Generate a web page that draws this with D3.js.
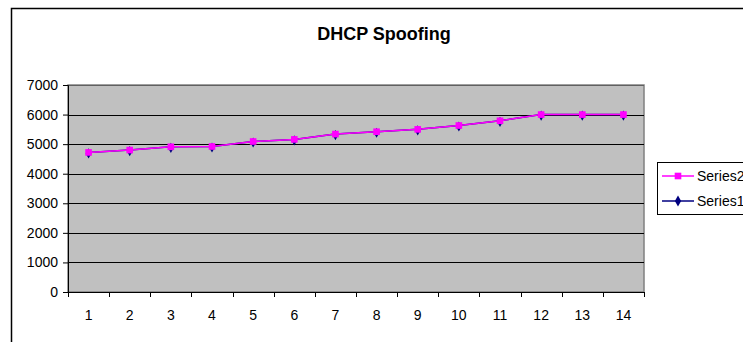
<!DOCTYPE html>
<html>
<head>
<meta charset="utf-8">
<script src="https://cdn.jsdelivr.net/npm/d3@7"></script>
<style>
  body { margin: 0; background: #fff; }
  text { font-family: "Liberation Sans", Arial, sans-serif; fill: #000; }
</style>
</head>
<body>
<svg id="chart" width="743" height="342"></svg>
<script>
var categories = [1, 2, 3, 4, 5, 6, 7, 8, 9, 10, 11, 12, 13, 14];
var series1 = [4720, 4800, 4910, 4920, 5090, 5160, 5340, 5420, 5500, 5630, 5790, 6000, 6000, 6000];
var series2 = [4720, 4800, 4910, 4920, 5090, 5160, 5340, 5420, 5500, 5630, 5790, 6000, 6000, 6000];
var yTicks = [0, 1000, 2000, 3000, 4000, 5000, 6000, 7000];

var svg = d3.select("#chart");
var plot = { left: 68, right: 644, top: 85, bottom: 292 };

var xScale = d3.scaleBand().domain(categories).range([plot.left, plot.right]);
var yScale = d3.scaleLinear().domain([0, 7000]).range([plot.bottom, plot.top]);

// outer chart frame (cut off at right and bottom)
svg.append("rect")
  .attr("x", 11.5).attr("y", 8.5)
  .attr("width", 760).attr("height", 360)
  .attr("fill", "#fff")
  .attr("stroke", "#000")
  .attr("stroke-width", 1.5);

svg.append("text")
  .attr("x", 384).attr("y", 40)
  .attr("text-anchor", "middle")
  .style("font-size", "18px")
  .style("font-weight", "bold")
  .text("DHCP Spoofing");

// plot area
svg.append("rect")
  .attr("x", plot.left).attr("y", plot.top)
  .attr("width", plot.right - plot.left)
  .attr("height", plot.bottom - plot.top)
  .attr("fill", "#c0c0c0")
  .attr("stroke", "#808080")
  .attr("stroke-width", 1.5);

svg.append("g")
  .selectAll("line")
  .data(yTicks.filter(function(d) { return d > 0; }))
  .enter()
  .append("line")
  .attr("x1", plot.left).attr("x2", plot.right)
  .attr("y1", function(d) { return Math.round(yScale(d)) + 0.5; })
  .attr("y2", function(d) { return Math.round(yScale(d)) + 0.5; })
  .attr("stroke", function(d) { return d == 7000 ? "#606060" : "#000"; })
  .attr("stroke-width", 1);

// y axis
var yAxis = d3.axisLeft(yScale).tickValues(yTicks).tickFormat(d3.format("d")).tickSize(5).tickPadding(5);
var gy = svg.append("g")
  .attr("transform", "translate(" + plot.left + ",0)")
  .call(yAxis);
gy.select(".domain").attr("stroke", "#000");
gy.selectAll("text").style("font-size", "14px").style("font-family", "Liberation Sans, Arial, sans-serif");

// x axis, ticks between categories
var xAxis = d3.axisBottom(xScale).tickSize(0).tickPadding(18);
var gx = svg.append("g")
  .attr("transform", "translate(0," + plot.bottom + ")")
  .call(xAxis);
gx.select(".domain").remove();
gx.selectAll("text").style("font-size", "14px").style("font-family", "Liberation Sans, Arial, sans-serif");

svg.append("line")
  .attr("x1", plot.left).attr("x2", plot.right)
  .attr("y1", plot.bottom + 0.5).attr("y2", plot.bottom + 0.5)
  .attr("stroke", "#000");

var edges = categories.map(function(d) { return xScale(d); }).concat([plot.right]);
svg.append("g")
  .selectAll("line")
  .data(edges)
  .enter()
  .append("line")
  .attr("x1", function(d) { return Math.round(d) + 0.5; })
  .attr("x2", function(d) { return Math.round(d) + 0.5; })
  .attr("y1", plot.bottom).attr("y2", plot.bottom + 5)
  .attr("stroke", "#000");

var cx = function(d, i) { return xScale(categories[i]) + xScale.bandwidth() / 2; };
var line = d3.line()
  .x(function(d, i) { return cx(d, i); })
  .y(function(d) { return yScale(d); });

function drawSeries(values, color, symbol, size, dy) {
  var g = svg.append("g");
  g.append("path")
    .datum(values)
    .attr("d", line)
    .attr("fill", "none")
    .attr("stroke", color)
    .attr("stroke-width", 1.5);
  g.selectAll("path.mark")
    .data(values)
    .enter()
    .append("path")
    .attr("class", "mark")
    .attr("d", d3.symbol().type(symbol).size(size))
    .attr("transform", function(d, i) {
      return "translate(" + cx(d, i) + "," + (yScale(d) + dy) + ")";
    })
    .attr("fill", color);
}

drawSeries(series1, "#000080", d3.symbolDiamond, 30, 1);
drawSeries(series2, "#ff00ff", d3.symbolSquare, 44, 0);

// legend
var legend = svg.append("g");
legend.append("rect")
  .attr("x", 657.5).attr("y", 162.5)
  .attr("width", 120).attr("height", 52)
  .attr("fill", "#fff")
  .attr("stroke", "#000");

var legendItems = [
  { name: "Series2", color: "#ff00ff", symbol: d3.symbolSquare, size: 44, y: 176 },
  { name: "Series1", color: "#000080", symbol: d3.symbolDiamond, size: 34, y: 201 }
];
var items = legend.selectAll("g.item")
  .data(legendItems)
  .enter()
  .append("g")
  .attr("class", "item");
items.append("line")
  .attr("x1", 662).attr("x2", 694)
  .attr("y1", function(d) { return d.y; })
  .attr("y2", function(d) { return d.y; })
  .attr("stroke", function(d) { return d.color; })
  .attr("stroke-width", 1.5);
items.append("path")
  .attr("d", function(d) { return d3.symbol().type(d.symbol).size(d.size)(); })
  .attr("transform", function(d) { return "translate(678," + d.y + ")"; })
  .attr("fill", function(d) { return d.color; });
items.append("text")
  .attr("x", 697)
  .attr("y", function(d) { return d.y + 5; })
  .style("font-size", "14px")
  .text(function(d) { return d.name; });
</script>
</body>
</html>
